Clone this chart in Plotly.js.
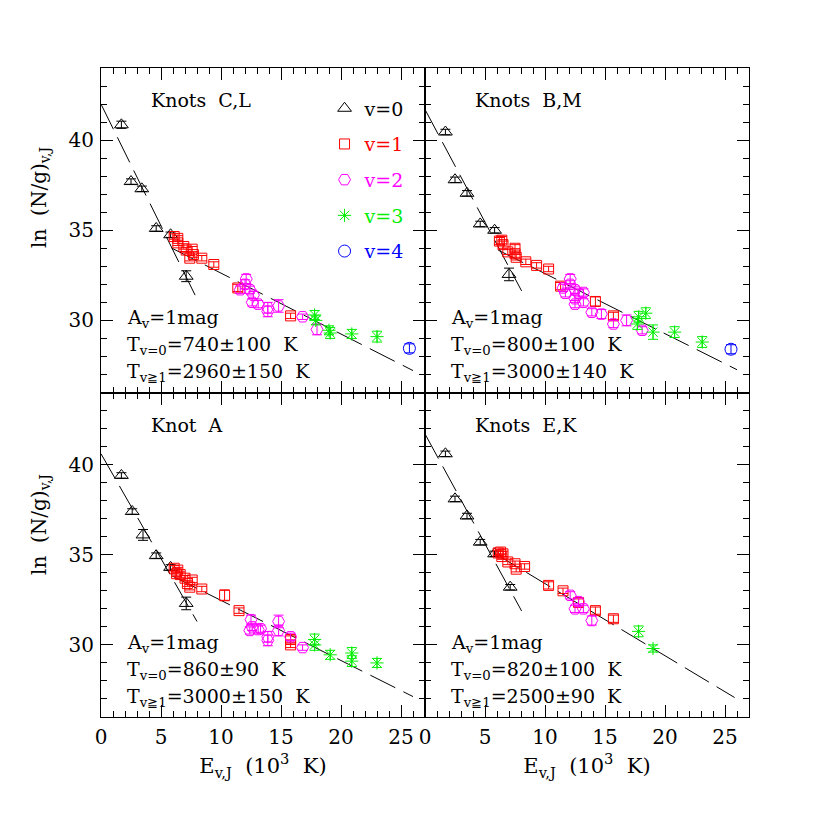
<!DOCTYPE html>
<html>
<head>
<meta charset="utf-8">
<script src="https://cdn.plot.ly/plotly-3.0.1.min.js"></script>
<style>html,body{margin:0;padding:0;background:#fff}#chart{width:817px;height:817px}</style>
</head>
<body>
<div id="chart"></div>
<script>
// ---------- DATA (E_v,J in 10^3 K, ln(N/g)) ----------
// Knots C,L (top-left)
const clV0E = [1.7, 2.5, 3.4, 4.6, 5.8, 7.1];
const clV0N = [40.85, 37.7, 37.3, 35.1, 34.75, 32.45];
const clV0Err = [0.2, 0.15, 0.15, 0.15, 0.15, 0.3];
const clV1E = [6.1, 6.4, 6.4, 6.9, 7.1, 7.6, 7.7, 7.4, 8.4, 9.4, 11.4, 15.8];
const clV1N = [34.65, 34.55, 34.3, 34.1, 33.9, 33.95, 33.65, 33.45, 33.45, 33.1, 31.8, 30.25];
const clV1Err = [0.15, 0.15, 0.15, 0.15, 0.15, 0.15, 0.15, 0.15, 0.15, 0.15, 0.2, 0.15];
const clV2E = [11.6, 12.0, 12.1, 12.4, 12.6, 12.7, 13.1, 13.9, 13.9, 14.8, 16.8, 18.0];
const clV2N = [31.7, 32.0, 32.3, 31.7, 31.0, 31.4, 30.9, 30.7, 30.5, 30.8, 30.2, 29.5];
const clV2Err = [0.2, 0.25, 0.25, 0.2, 0.2, 0.2, 0.2, 0.3, 0.3, 0.35, 0.15, 0.3];
const clV3E = [17.8, 17.9, 19.0, 19.1, 20.9, 23.0];
const clV3N = [30.3, 30.0, 29.45, 29.3, 29.25, 29.1];
const clV3Err = [0.25, 0.25, 0.25, 0.3, 0.25, 0.3];
const clV4E = [25.7];
const clV4N = [28.45];
const clV4Err = [0.25];

// Knots B,M (top-right)
const bmV0E = [1.7, 2.5, 3.5, 4.6, 5.8, 7.0];
const bmV0N = [40.45, 37.8, 37.05, 35.35, 35.0, 32.55];
const bmV0Err = [0.15, 0.15, 0.15, 0.15, 0.15, 0.35];
const bmV1E = [6.2, 6.4, 6.5, 6.9, 7.5, 7.5, 7.6, 8.4, 9.3, 10.3, 11.3, 14.2, 15.7];
const bmV1N = [34.4, 34.45, 34.2, 33.8, 34.0, 33.7, 33.5, 33.25, 33.05, 32.85, 31.9, 31.05, 30.25];
const bmV1Err = [0.2, 0.2, 0.2, 0.15, 0.2, 0.2, 0.15, 0.15, 0.15, 0.15, 0.2, 0.25, 0.2];
const bmV2E = [11.5, 11.7, 12.1, 12.1, 12.5, 12.5, 12.5, 12.8, 13.2, 13.2, 13.9, 14.7, 15.7, 16.8, 18.1];
const bmV2N = [31.8, 31.5, 32.3, 32.0, 31.7, 31.2, 30.9, 31.5, 31.55, 31.0, 30.45, 30.35, 29.8, 30.0, 29.45];
const bmV2Err = [0.2, 0.2, 0.25, 0.2, 0.2, 0.2, 0.2, 0.2, 0.2, 0.2, 0.2, 0.25, 0.2, 0.3, 0.2];
const bmV3E = [17.7, 17.8, 18.4, 19.0, 20.8, 23.1];
const bmV3N = [29.8, 30.2, 30.4, 29.35, 29.35, 28.8];
const bmV3Err = [0.3, 0.3, 0.3, 0.4, 0.3, 0.3];
const bmV4E = [25.5];
const bmV4N = [28.4];
const bmV4Err = [0.25];

// Knot A (bottom-left)
const aV0E = [1.7, 2.6, 3.5, 4.6, 5.8, 7.1];
const aV0N = [39.4, 37.4, 36.1, 34.95, 34.3, 32.3];
const aV0Err = [0.15, 0.15, 0.3, 0.15, 0.15, 0.35];
const aV1E = [6.1, 6.3, 6.4, 6.6, 7.0, 7.2, 7.4, 7.6, 8.4, 10.3, 11.5, 15.8, 15.8];
const aV1N = [34.25, 33.95, 34.15, 33.9, 33.7, 33.4, 33.2, 33.6, 33.1, 32.75, 31.9, 30.3, 30.0];
const aV1Err = [0.15, 0.15, 0.15, 0.15, 0.15, 0.15, 0.15, 0.15, 0.15, 0.3, 0.15, 0.2, 0.15];
const aV2E = [12.5, 12.4, 12.6, 13.1, 13.3, 13.9, 13.9, 14.8, 14.8, 15.8, 16.8];
const aV2N = [31.4, 30.8, 31.0, 30.85, 30.9, 30.45, 30.25, 31.3, 30.8, 30.45, 29.85];
const aV2Err = [0.25, 0.2, 0.2, 0.2, 0.2, 0.3, 0.3, 0.35, 0.3, 0.2, 0.15];
const aV3E = [17.8, 17.8, 19.1, 20.9, 20.9, 23.0];
const aV3N = [30.3, 30.0, 29.45, 29.55, 29.1, 29.0];
const aV3Err = [0.3, 0.3, 0.25, 0.3, 0.3, 0.25];

// Knots E,K (bottom-right)
const ekV0E = [1.7, 2.5, 3.5, 4.6, 5.8, 7.1];
const ekV0N = [40.6, 38.1, 37.15, 35.7, 35.05, 33.2];
const ekV0Err = [0.15, 0.15, 0.15, 0.15, 0.15, 0.15];
const ekV1E = [6.1, 6.3, 6.5, 6.4, 6.9, 7.5, 7.6, 8.3, 10.3, 11.5, 12.8, 14.2, 15.7];
const ekV1N = [35.1, 35.15, 35.05, 34.9, 34.6, 34.5, 34.2, 34.35, 33.3, 33.0, 32.35, 31.9, 31.45];
const ekV1Err = [0.15, 0.15, 0.15, 0.15, 0.15, 0.15, 0.15, 0.15, 0.2, 0.15, 0.2, 0.2, 0.2];
const ekV2E = [12.1, 12.8, 12.5, 13.2, 13.9];
const ekV2N = [32.75, 32.4, 32.0, 32.0, 31.35];
const ekV2Err = [0.2, 0.2, 0.2, 0.2, 0.25];
const ekV3E = [17.8, 19.0];
const ekV3N = [30.75, 29.8];
const ekV3Err = [0.3, 0.2];

// Fits: ln(N/g) = a - E/T  (T in 10^3 K), with E range drawn
const fitNames = ['C,L', 'B,M', 'A', 'E,K'];
const fitV0A = [42.0, 41.7, 40.6, 41.7];
const fitV0T = [0.74, 0.80, 0.86, 0.82];
const fitV0Range = [[0, 8.0], [0, 8.05], [0, 8.0], [0, 8.05]];
const fitV1A = [36.0, 35.93, 35.8, 37.4];
const fitV1T = [2.96, 3.00, 3.00, 2.50];
const fitV1Range = [[5.9, 26.0], [6.1, 26.0], [5.9, 26.0], [5.8, 25.8]];

// Panel labels and texts
const panelTitles = ['Knots  C,L', 'Knots  B,M', 'Knot  A', 'Knots  E,K'];
const tempV0 = ['740±100', '800±100', '860±90', '820±100'];
const tempV1 = ['2960±150', '3000±140', '3000±150', '2500±90'];
const legendLabels = ['v=0', 'v=1', 'v=2', 'v=3', 'v=4'];
const xTickVals = [0, 5, 10, 15, 20, 25];
const yTickVals = [30, 35, 40];

// ---------- STYLE ----------
const colors = ['#000000', '#ff0000', '#ff00ff', '#00ee00', '#0000ff'];
const symbols = ['triangle-up-open', 'square-open', 'hexagon2-open', 'asterisk-open', 'circle-open'];
const sizes = [12, 10, 12, 11, 12];
const FONT = 'DejaVu Serif';

const panelData = [
  [[clV0E, clV0N, clV0Err], [clV1E, clV1N, clV1Err], [clV2E, clV2N, clV2Err], [clV3E, clV3N, clV3Err], [clV4E, clV4N, clV4Err]],
  [[bmV0E, bmV0N, bmV0Err], [bmV1E, bmV1N, bmV1Err], [bmV2E, bmV2N, bmV2Err], [bmV3E, bmV3N, bmV3Err], [bmV4E, bmV4N, bmV4Err]],
  [[aV0E, aV0N, aV0Err], [aV1E, aV1N, aV1Err], [aV2E, aV2N, aV2Err], [aV3E, aV3N, aV3Err]],
  [[ekV0E, ekV0N, ekV0Err], [ekV1E, ekV1N, ekV1Err], [ekV2E, ekV2N, ekV2Err], [ekV3E, ekV3N, ekV3Err]]
];

const traces = [];
const axSuffix = ['', '2', '3', '4'];

function fitTrace(p, a, T, rng) {
  const xs = [rng[0], rng[1]];
  return {
    x: xs, y: xs.map(e => a - e / T), mode: 'lines',
    xaxis: 'x' + axSuffix[p], yaxis: 'y' + axSuffix[p],
    line: {color: '#000', width: 1, dash: '28px,9px'},
    showlegend: false, hoverinfo: 'skip'
  };
}

for (let p = 0; p < 4; p++) {
  traces.push(fitTrace(p, fitV0A[p], fitV0T[p], fitV0Range[p]));
  traces.push(fitTrace(p, fitV1A[p], fitV1T[p], fitV1Range[p]));
  panelData[p].forEach((s, v) => {
    traces.push({
      x: s[0], y: s[1], mode: 'markers', type: 'scatter',
      xaxis: 'x' + axSuffix[p], yaxis: 'y' + axSuffix[p],
      name: '<span style="color:' + colors[v] + '">' + legendLabels[v] + '</span>',
      legendgroup: 'g' + v,
      showlegend: p === 0,
      marker: {symbol: symbols[v], size: sizes[v], color: colors[v], line: {color: colors[v], width: 1}},
      error_y: {type: 'data', array: s[2], visible: true, color: colors[v], thickness: 1, width: 5}
    });
  });
}

function axis(domain, anchor, showLabels, isX) {
  return {
    domain: domain, anchor: anchor,
    range: isX ? [0, 27] : [26, 44],
    tickmode: 'array', tickvals: isX ? xTickVals : yTickVals,
    showticklabels: showLabels,
    ticks: 'inside', ticklen: 12, tickwidth: 1, tickcolor: '#000',
    minor: {dtick: 1, tick0: 0, ticks: 'inside', ticklen: 6, tickwidth: 1, tickcolor: '#000', showgrid: false},
    showline: true, linecolor: '#000', linewidth: 1, mirror: 'allticks',
    showgrid: false, zeroline: false,
    tickfont: {family: FONT, size: 20, color: '#000'},
    ticklabelstandoff: 2,
    fixedrange: true
  };
}

const xTitle = {text: 'E<sub>v,J</sub>  (10<sup>3</sup>  K)', font: {family: FONT, size: 21, color: '#000'}, standoff: 10};

const layout = {
  width: 817, height: 817,
  margin: {l: 101, r: 68, t: 68, b: 100},
  paper_bgcolor: '#fff', plot_bgcolor: '#fff',
  font: {family: FONT, size: 19, color: '#000'},
  xaxis: axis([0, 0.5], 'y', false, true),
  yaxis: axis([0.5, 1], 'x', true, false),
  xaxis2: axis([0.5, 1], 'y2', false, true),
  yaxis2: axis([0.5, 1], 'x2', false, false),
  xaxis3: Object.assign(axis([0, 0.5], 'y3', true, true), {title: xTitle}),
  yaxis3: axis([0, 0.5], 'x3', true, false),
  xaxis4: Object.assign(axis([0.5, 1], 'y4', true, true), {title: xTitle}),
  yaxis4: axis([0, 0.5], 'x4', false, false),
  showlegend: true,
  legend: {
    x: 0.345, y: 0.967, xanchor: 'left', yanchor: 'top',
    bgcolor: 'rgba(0,0,0,0)', borderwidth: 0,
    font: {family: FONT, size: 19},
    tracegroupgap: 8, itemclick: false, itemdoubleclick: false
  },
  annotations: []
};

for (let p = 0; p < 4; p++) {
  const xr = 'x' + axSuffix[p], yr = 'y' + axSuffix[p];
  const common = {xref: xr, yref: yr, xanchor: 'left', yanchor: 'middle', showarrow: false, font: {family: FONT, size: 19, color: '#000'}};
  layout.annotations.push(Object.assign({x: 4.0, y: 42.2, text: panelTitles[p]}, common));
  layout.annotations.push(Object.assign({x: 2.0, y: 30.1, text: 'A<sub>v</sub>=1mag'}, common));
  layout.annotations.push(Object.assign({x: 2.0, y: 28.6, text: 'T<sub>v=0</sub>=' + tempV0[p] + '  K'}, common));
  layout.annotations.push(Object.assign({x: 2.0, y: 27.1, text: 'T<sub>v≧1</sub>=' + tempV1[p] + '  K'}, common));
}
// y-axis titles
[0.8, 0.296].forEach(yy => {
  layout.annotations.push({
    xref: 'paper', yref: 'paper', x: -0.094, y: yy, xanchor: 'center', yanchor: 'middle',
    text: 'ln  (N/g)<sub>v,J</sub>', textangle: -90, showarrow: false,
    font: {family: FONT, size: 20, color: '#000'}
  });
});

Plotly.newPlot('chart', traces, layout, {staticPlot: true, displayModeBar: false});
</script>
</body>
</html>
